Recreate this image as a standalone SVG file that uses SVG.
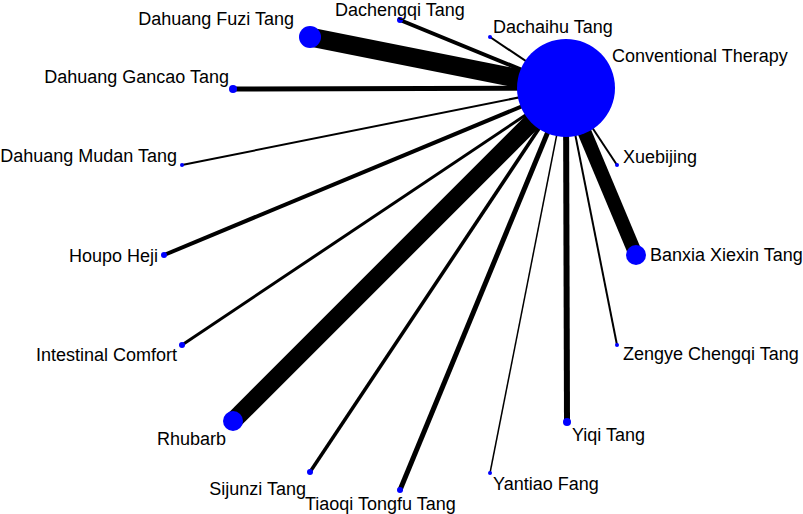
<svg xmlns="http://www.w3.org/2000/svg" width="803" height="514" viewBox="0 0 803 514">
<style>
.e{stroke:#000;stroke-linecap:butt}
.n{fill:#0000ff}
text{font-family:"Liberation Sans",Arial,sans-serif;font-size:18px;fill:#000}
</style>
<rect width="803" height="514" fill="#fff"/>
<g id="edges">
<line class="e" x1="566" y1="88" x2="310" y2="37" stroke-width="19"/>
<line class="e" x1="566" y1="88" x2="400" y2="20" stroke-width="4"/>
<line class="e" x1="566" y1="88" x2="490" y2="37" stroke-width="2"/>
<line class="e" x1="566" y1="88" x2="233" y2="89" stroke-width="5"/>
<line class="e" x1="566" y1="88" x2="182" y2="165" stroke-width="2"/>
<line class="e" x1="566" y1="88" x2="164" y2="255" stroke-width="4"/>
<line class="e" x1="566" y1="88" x2="182" y2="345" stroke-width="3"/>
<line class="e" x1="566" y1="88" x2="233" y2="421" stroke-width="18"/>
<line class="e" x1="566" y1="88" x2="310" y2="472" stroke-width="3.5"/>
<line class="e" x1="566" y1="88" x2="400" y2="490" stroke-width="5"/>
<line class="e" x1="566" y1="88" x2="490" y2="473" stroke-width="1.5"/>
<line class="e" x1="566" y1="88" x2="567" y2="422" stroke-width="6"/>
<line class="e" x1="566" y1="88" x2="617" y2="345" stroke-width="2"/>
<line class="e" x1="566" y1="88" x2="636" y2="255" stroke-width="14"/>
<line class="e" x1="566" y1="88" x2="617" y2="165" stroke-width="2"/>
</g>
<g id="conventional-therapy"><circle class="n" cx="566" cy="88" r="49"/><text x="612" y="62">Conventional Therapy</text></g>
<g id="dahuang-fuzi-tang"><circle class="n" cx="310" cy="37" r="11"/><text x="294" y="25" text-anchor="end">Dahuang Fuzi Tang</text></g>
<g id="dachengqi-tang"><circle class="n" cx="400" cy="20" r="3"/><text x="335" y="16">Dachengqi Tang</text></g>
<g id="dachaihu-tang"><circle class="n" cx="490" cy="37" r="2"/><text x="493" y="33">Dachaihu Tang</text></g>
<g id="dahuang-gancao-tang"><circle class="n" cx="233" cy="89" r="4"/><text x="229" y="83" text-anchor="end">Dahuang Gancao Tang</text></g>
<g id="dahuang-mudan-tang"><circle class="n" cx="182" cy="165" r="2"/><text x="177" y="162" text-anchor="end">Dahuang Mudan Tang</text></g>
<g id="houpo-heji"><circle class="n" cx="164" cy="255" r="3"/><text x="158" y="262" text-anchor="end">Houpo Heji</text></g>
<g id="intestinal-comfort"><circle class="n" cx="182" cy="345" r="3"/><text x="177" y="361" text-anchor="end">Intestinal Comfort</text></g>
<g id="rhubarb"><circle class="n" cx="233" cy="421" r="10"/><text x="226" y="445" text-anchor="end">Rhubarb</text></g>
<g id="sijunzi-tang"><circle class="n" cx="310" cy="472" r="3"/><text x="306" y="495" text-anchor="end">Sijunzi Tang</text></g>
<g id="tiaoqi-tongfu-tang"><circle class="n" cx="400" cy="490" r="3"/><text x="305" y="510">Tiaoqi Tongfu Tang</text></g>
<g id="yantiao-fang"><circle class="n" cx="490" cy="473" r="2"/><text x="493" y="490">Yantiao Fang</text></g>
<g id="yiqi-tang"><circle class="n" cx="567" cy="422" r="4"/><text x="572" y="441">Yiqi Tang</text></g>
<g id="zengye-chengqi-tang"><circle class="n" cx="617" cy="345" r="2"/><text x="623" y="360">Zengye Chengqi Tang</text></g>
<g id="banxia-xiexin-tang"><circle class="n" cx="636" cy="255" r="10"/><text x="650" y="261">Banxia Xiexin Tang</text></g>
<g id="xuebijing"><circle class="n" cx="617" cy="165" r="2"/><text x="623" y="163">Xuebijing</text></g>
</svg>
